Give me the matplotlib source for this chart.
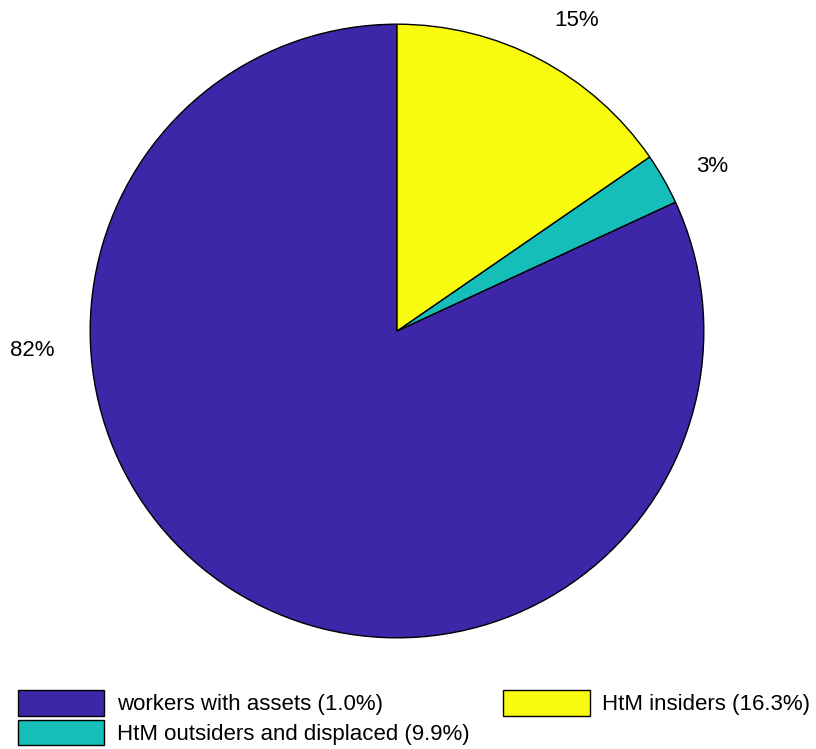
import numpy as np
import matplotlib.pyplot as plt
from matplotlib.patches import Patch

# shares of each group
shares = [81.9, 2.7, 15.4]
pct_labels = ['82%', '3%', '15%']
legend_labels = ['workers with assets (1.0%)',
                 'HtM outsiders and displaced (9.9%)',
                 'HtM insiders (16.3%)']
colors = ['#3D26A8', '#15BEB8', '#F9FB0E']
# where the percent labels sit in the original (angle in degrees, distance in radii)
label_angles = [183.0, 27.6, 60.0]
label_dist = [1.19, 1.16, 1.17]

fig = plt.figure(figsize=(8.16, 7.49), dpi=100)
ax = fig.add_axes([397/816 - 0.376, 1 - 331/749 - 0.41, 0.752, 0.82])

wedges, texts = ax.pie(shares, labels=pct_labels, colors=colors, startangle=90,
                       counterclock=True,
                       wedgeprops=dict(edgecolor='black', linewidth=1.0),
                       textprops=dict(fontsize=16, family=['Liberation Sans', 'DejaVu Sans']))
for t, a, d in zip(texts, label_angles, label_dist):
    t.set_ha('center')
    t.set_va('center')
    a = np.deg2rad(a)
    t.set_position((d * np.cos(a), d * np.sin(a)))
ax.set_xlim(-1, 1)
ax.set_ylim(-1, 1)
ax.set_aspect('equal')

handles = [Patch(facecolor=c, edgecolor='black', linewidth=1.0) for c in colors]
fig.legend(handles, legend_labels, ncol=2, loc='lower left',
           bbox_to_anchor=(0.0, -0.019), frameon=False,
           prop=dict(family=['Liberation Sans', 'DejaVu Sans'], size=16),
           handlelength=3.9, handleheight=1.4, handletextpad=0.55,
           columnspacing=1.53, labelspacing=0.18, borderpad=0.3)

fig.savefig('out.png', dpi=100)
